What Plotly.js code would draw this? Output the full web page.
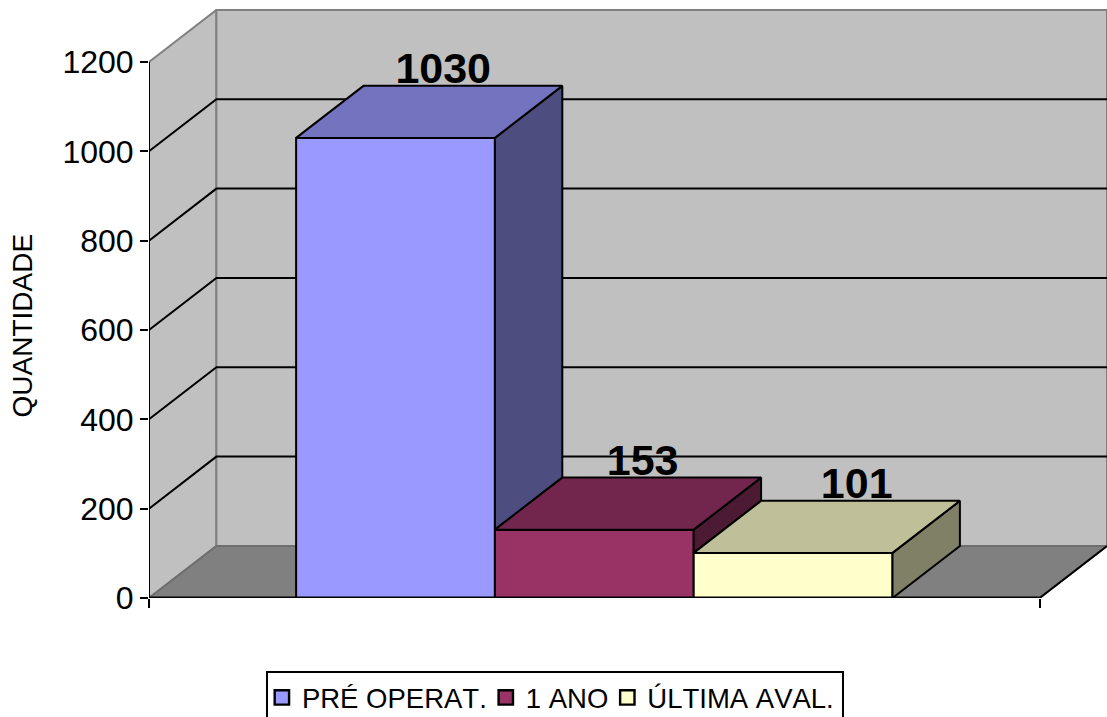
<!DOCTYPE html>
<html>
<head>
<meta charset="utf-8">
<script src="https://cdn.plot.ly/plotly-3.0.1.min.js"></script>
<style>html,body{margin:0;padding:0;background:#fff;overflow:hidden}#chart{width:1107px;height:717px}text{font-kerning:none}</style>
</head>
<body>
<div id="chart"></div>
<script>
// Evaluation counts per period
const categories = ["PRÉ OPERAT.", "1 ANO", "ÚLTIMA AVAL."];
const values = [1030, 153, 101];
const yTicks = [0, 200, 400, 600, 800, 1000, 1200];

// Face colours of each box: front, top, side
const frontColors = ["#9999FF", "#993366", "#FFFFCC"];
const topColors = ["#7373BF", "#73264D", "#BFBF99"];
const sideColors = ["#4D4D80", "#4D1A33", "#808066"];

// Oblique projection of the third dimension, in axis units
const depthX = 0.339;
const depthY = 116.5;
const xStart = -0.74;
const xEnd = 3.74;
const yTop = 1200;
const labelShift = [0.24, 0.243, 0.32];
const labelLift = 30;
const fontFamily = '"Liberation Sans", Arial, sans-serif';

const face = (xs, ys, fill, color, width) => ({
  type: "scatter", mode: "lines", x: xs, y: ys, fill: "toself", fillcolor: fill,
  line: {color: color, width: width}, showlegend: false, hoverinfo: "skip"
});
const stroke = (xs, ys, width) => ({
  type: "scatter", mode: "lines", x: xs, y: ys, cliponaxis: false,
  line: {color: "#000", width: width}, showlegend: false, hoverinfo: "skip"
});
const closedPath = pts => "M" + pts.map(p => p[0] + "," + p[1]).join("L") + "Z";

const traces = [];

// Front faces are real bars, which also supply the legend swatches
categories.forEach((name, i) => {
  traces.push({
    type: "bar", name: name, x: [i + 0.5], y: [values[i]], width: [1],
    marker: {color: frontColors[i], line: {color: "#000", width: 2}}, hoverinfo: "skip"
  });
});

// Label, side and top of each box; every side stops where the next box starts
categories.forEach((name, i) => {
  const v = values[i];
  const next = i + 1 < values.length ? values[i + 1] : 0;
  const right = i + 1;
  traces.push({
    type: "scatter", mode: "text", x: [i + 0.5 + labelShift[i]], y: [v + depthY + labelLift],
    text: [String(v)], textposition: "middle center", cliponaxis: false, showlegend: false,
    textfont: {family: fontFamily, size: 43, color: "#000", weight: 700}, hoverinfo: "skip"
  });
  traces.push(face([right, right + depthX, right + depthX, right, right],
                   [v, v + depthY, next + depthY, next, v], sideColors[i], "#000", 2));
  traces.push(face([i, right, right + depthX, i + depthX, i],
                   [v, v, v + depthY, v + depthY, v], topColors[i], "#000", 2));
});

// Axis lines and the open edge of the floor
traces.push(stroke([xStart, xEnd], [0, 0], 3));
traces.push(stroke([xStart, xStart], [0, yTop], 2));
traces.push(stroke([xEnd, xEnd + depthX], [0, depthY], 2));

// Side wall, back wall, floor and gridlines
const backX = xStart + depthX;
const farX = xEnd + depthX;
const wallTop = yTop + depthY;
const wallLine = {color: "#808080", width: 2};
const shapes = [
  {type: "path", layer: "below", xref: "x", yref: "y", fillcolor: "#C0C0C0", line: wallLine,
   path: closedPath([[xStart, 0], [backX, depthY], [backX, wallTop], [xStart, yTop]])},
  {type: "path", layer: "below", xref: "x", yref: "y", fillcolor: "#C0C0C0", line: wallLine,
   path: closedPath([[backX, depthY], [farX, depthY], [farX, wallTop], [backX, wallTop]])},
  {type: "path", layer: "below", xref: "x", yref: "y", fillcolor: "#808080", line: {color: "#6E6E6E", width: 2},
   path: closedPath([[xStart, 0], [xEnd, 0], [farX, depthY], [backX, depthY]])}
];
yTicks.filter(t => t > 0 && t < yTop).forEach(t => {
  shapes.push({type: "path", layer: "below", xref: "x", yref: "y", line: {color: "#000", width: 2},
    path: "M" + xStart + "," + t + "L" + backX + "," + (t + depthY) + "L" + farX + "," + (t + depthY)});
});

const layout = {
  width: 1107, height: 717,
  margin: {l: 149, r: 0, t: 9, b: 119, autoexpand: false},
  paper_bgcolor: "#fff", plot_bgcolor: "rgba(0,0,0,0)",
  barmode: "overlay", shapes: shapes,
  font: {family: fontFamily, color: "#000"},
  showlegend: true,
  legend: {
    orientation: "h", x: 0.122, xanchor: "left", y: -0.124, yanchor: "top",
    bgcolor: "#fff", bordercolor: "#000", borderwidth: 2,
    font: {family: fontFamily, size: 27.5, color: "#000"}, traceorder: "normal"
  },
  xaxis: {
    range: [xStart, farX], showgrid: false, zeroline: false, showline: false,
    tickmode: "array", tickvals: [xStart, xEnd], ticktext: ["", ""],
    ticks: "outside", ticklen: 9, tickwidth: 2, tickcolor: "#000", fixedrange: true
  },
  yaxis: {
    range: [0, 1318.6], showgrid: false, zeroline: false, showline: false,
    tickmode: "array", tickvals: yTicks, ticks: "outside", ticklen: 8, tickwidth: 2, tickcolor: "#000",
    tickfont: {family: fontFamily, size: 32, color: "#000"}, fixedrange: true
  },
  annotations: [{
    text: "QUANTIDADE", textangle: -90, showarrow: false,
    xref: "paper", x: -0.132, xanchor: "center",
    yref: "y", y: 609, yanchor: "middle",
    font: {family: fontFamily, size: 28, color: "#000"}
  }]
};

// Tighten the legend: larger swatches, entries pulled together, narrower box
const legendEntryShift = [-6, -12, -18];
const swatchScale = 1.2;
const legendWidth = 576;
Plotly.newPlot("chart", traces, layout, {displayModeBar: false, staticPlot: true}).then(gd => {
  gd.querySelectorAll(".legend .traces").forEach((entry, i) => {
    const m = /translate\(\s*([-\d.]+)[ ,]+([-\d.]+)\s*\)/.exec(entry.getAttribute("transform") || "");
    if (m) entry.setAttribute("transform", "translate(" + (parseFloat(m[1]) + legendEntryShift[i]) + "," + m[2] + ")");
    entry.querySelectorAll(".legendpoints path").forEach(p => {
      p.setAttribute("transform", (p.getAttribute("transform") || "") + " scale(" + swatchScale + ")");
    });
  });
  const box = gd.querySelector(".legend .bg");
  if (box) box.setAttribute("width", legendWidth);
});
</script>
</body>
</html>
